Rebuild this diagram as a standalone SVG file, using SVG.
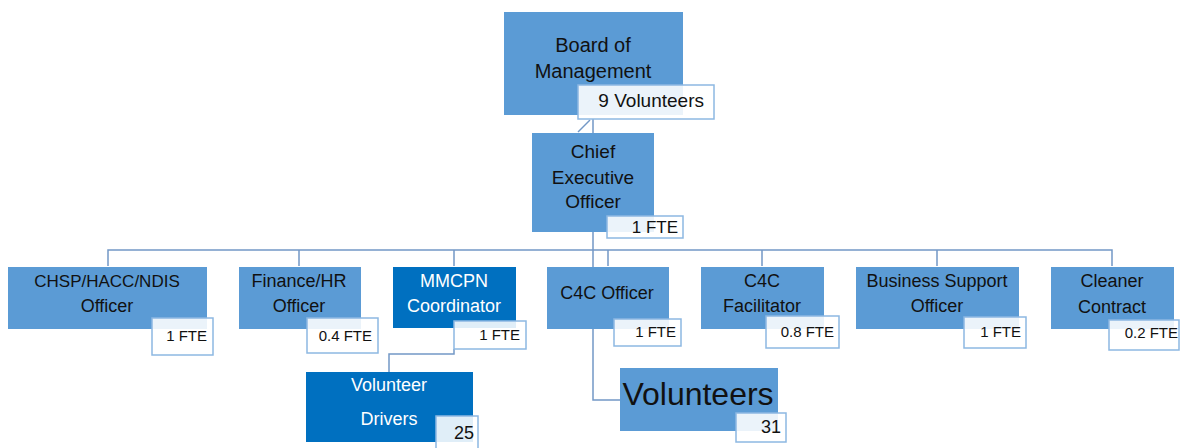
<svg xmlns="http://www.w3.org/2000/svg" width="1183" height="448" viewBox="0 0 1183 448">
<style>
.box{fill:#5B9BD5;}
.dark{fill:#0070C0;}
.lbl{fill:#fff;fill-opacity:0.88;stroke:#8DB8E2;stroke-width:1.5;}
.t{font-family:"Liberation Sans",Arial,sans-serif;font-size:18px;fill:#111;text-anchor:middle;}
.w{fill:#fff;}
.s{font-family:"Liberation Sans",Arial,sans-serif;font-size:15px;fill:#111;text-anchor:end;}
.m{font-family:"Liberation Sans",Arial,sans-serif;font-size:18px;fill:#111;text-anchor:end;}
.c{fill:none;stroke:#7398C6;stroke-width:1.5;}
</style>
<rect width="1183" height="448" fill="#fff"/>
<g id="connectors">
<path class="c" d="M593 119 V400 H620"/>
<path class="c" d="M578 132 L590 120"/>
<path class="c" d="M108 266 V250 H1112 V266"/>
<path class="c" d="M299 250 V266 M454 250 V266 M608 250 V266 M762 250 V266 M937 250 V266"/>
<path class="c" d="M454 349 V354 H389 V372"/>
</g>
<g id="board">
<rect class="box" x="504" y="12" width="179" height="103"/>
<text class="t" x="593" y="52" style="font-size:20px">Board of</text>
<text class="t" x="593" y="78" style="font-size:20px">Management</text>
<rect class="lbl" x="578" y="85" width="136" height="34"/>
<text class="m" x="704" y="107" style="font-size:19px">9 Volunteers</text>
</g>
<g id="ceo">
<rect class="box" x="532" y="133" width="122" height="99"/>
<text class="t" x="593" y="158" style="font-size:19px">Chief</text>
<text class="t" x="593" y="184" style="font-size:19px">Executive</text>
<text class="t" x="593" y="208" style="font-size:19px">Officer</text>
<rect class="lbl" x="607" y="216" width="76" height="22"/>
<text class="m" x="678" y="233" style="font-size:17px">1 FTE</text>
</g>
<g id="chsp">
<rect class="box" x="8" y="267" width="199" height="62"/>
<text class="t" x="107" y="287" style="font-size:17px">CHSP/HACC/NDIS</text>
<text class="t" x="107" y="312">Officer</text>
<rect class="lbl" x="152" y="318" width="61" height="37"/>
<text class="s" x="207" y="341">1 FTE</text>
</g>
<g id="finance">
<rect class="box" x="239" y="267" width="122" height="62"/>
<text class="t" x="299" y="287">Finance/HR</text>
<text class="t" x="299" y="312">Officer</text>
<rect class="lbl" x="307" y="318" width="71" height="35"/>
<text class="s" x="372" y="341">0.4 FTE</text>
</g>
<g id="mmcpn">
<rect class="dark" x="393" y="267" width="123" height="61"/>
<text class="t w" x="454" y="287">MMCPN</text>
<text class="t w" x="454" y="312">Coordinator</text>
<rect class="lbl" x="454" y="321" width="72" height="28"/>
<text class="s" x="520" y="340">1 FTE</text>
</g>
<g id="c4c-officer">
<rect class="box" x="547" y="267" width="122" height="62"/>
<text class="t" x="607" y="299">C4C Officer</text>
<rect class="lbl" x="614" y="319" width="67" height="27"/>
<text class="s" x="676" y="337">1 FTE</text>
</g>
<g id="c4c-facilitator">
<rect class="box" x="701" y="267" width="123" height="62"/>
<text class="t" x="762" y="287">C4C</text>
<text class="t" x="762" y="312">Facilitator</text>
<rect class="lbl" x="766" y="316" width="73" height="32"/>
<text class="s" x="834" y="337">0.8 FTE</text>
</g>
<g id="business">
<rect class="box" x="856" y="267" width="163" height="62"/>
<text class="t" x="937" y="287">Business Support</text>
<text class="t" x="937" y="312">Officer</text>
<rect class="lbl" x="964" y="317" width="62" height="31"/>
<text class="s" x="1021" y="337">1 FTE</text>
</g>
<g id="cleaner">
<rect class="box" x="1051" y="267" width="123" height="62"/>
<text class="t" x="1112" y="287">Cleaner</text>
<text class="t" x="1112" y="313">Contract</text>
<rect class="lbl" x="1109" y="320" width="70" height="30"/>
<text class="s" x="1178" y="338">0.2 FTE</text>
</g>
<g id="drivers">
<rect class="dark" x="306" y="372" width="167" height="70"/>
<text class="t w" x="389" y="391">Volunteer</text>
<text class="t w" x="389" y="425">Drivers</text>
<rect class="lbl" x="436" y="416" width="42" height="34"/>
<text class="m" x="474" y="439">25</text>
</g>
<g id="volunteers">
<rect class="box" x="620" y="368" width="158" height="63"/>
<text class="t" x="698" y="405" style="font-size:32px">Volunteers</text>
<rect class="lbl" x="736" y="413" width="50" height="29"/>
<text class="m" x="781" y="433">31</text>
</g>
</svg>
